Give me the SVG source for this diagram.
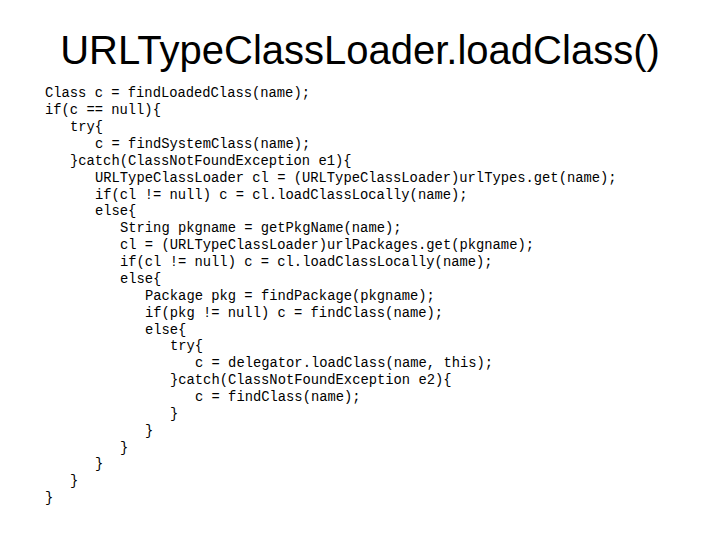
<svg xmlns="http://www.w3.org/2000/svg" width="720" height="540" viewBox="0 0 720 540">
<style>
.t{font-family:"Liberation Sans",Arial,sans-serif;font-size:40px;fill:#000}
.c{font-family:"Liberation Mono","Courier New",monospace;font-size:13.8px;fill:#000}
</style>
<rect width="720" height="540" fill="#fff"/>
<text class="t" x="360" y="64" text-anchor="middle">URLTypeClassLoader.loadClass()</text>
<g class="c">
<text x="45" y="97">Class c = findLoadedClass(name);</text>
<text x="45" y="114">if(c == null){</text>
<text x="70" y="131">try{</text>
<text x="95" y="148">c = findSystemClass(name);</text>
<text x="70" y="165">}catch(ClassNotFoundException e1){</text>
<text x="95" y="182">URLTypeClassLoader cl = (URLTypeClassLoader)urlTypes.get(name);</text>
<text x="95" y="199">if(cl != null) c = cl.loadClassLocally(name);</text>
<text x="95" y="215">else{</text>
<text x="120" y="232">String pkgname = getPkgName(name);</text>
<text x="120" y="249">cl = (URLTypeClassLoader)urlPackages.get(pkgname);</text>
<text x="120" y="266">if(cl != null) c = cl.loadClassLocally(name);</text>
<text x="120" y="283">else{</text>
<text x="145" y="300">Package pkg = findPackage(pkgname);</text>
<text x="145" y="317">if(pkg != null) c = findClass(name);</text>
<text x="145" y="334">else{</text>
<text x="170" y="350">try{</text>
<text x="195" y="367">c = delegator.loadClass(name, this);</text>
<text x="170" y="384">}catch(ClassNotFoundException e2){</text>
<text x="195" y="401">c = findClass(name);</text>
<text x="170" y="418">}</text>
<text x="145" y="435">}</text>
<text x="120" y="452">}</text>
<text x="95" y="468">}</text>
<text x="70" y="485">}</text>
<text x="45" y="502">}</text>
</g>
</svg>
